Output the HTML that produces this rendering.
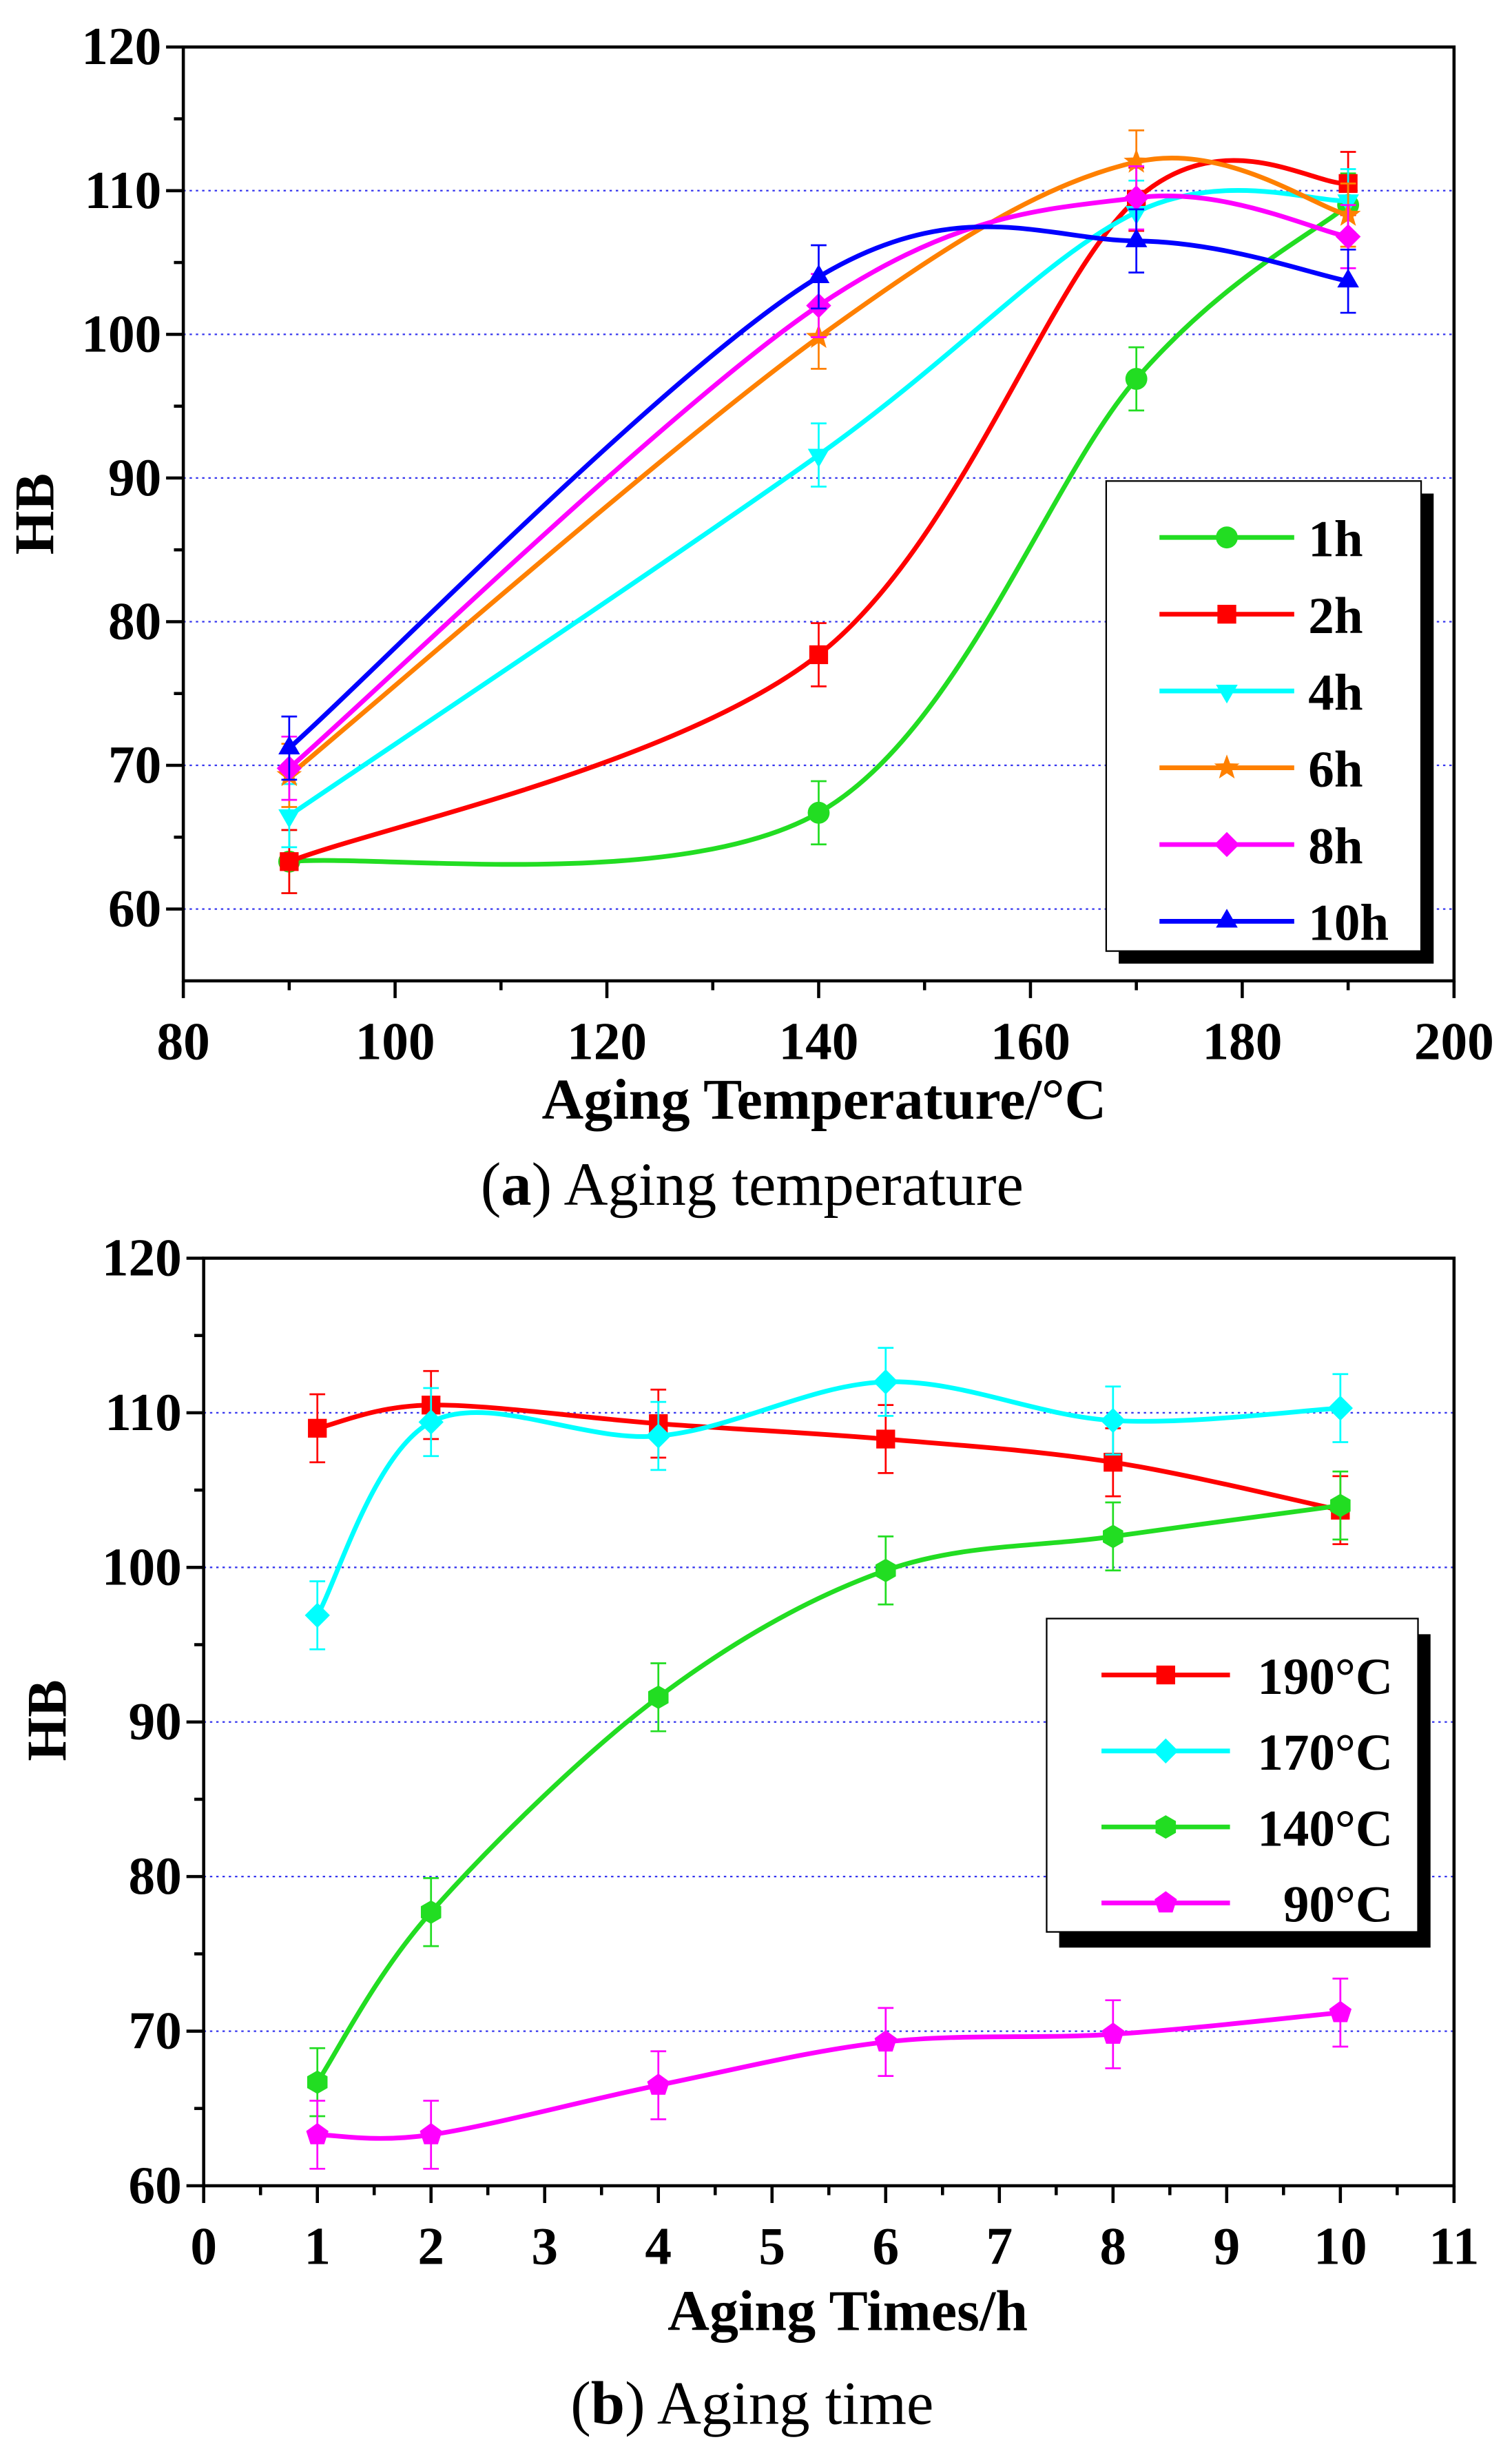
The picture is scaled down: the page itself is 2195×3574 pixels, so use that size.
<!DOCTYPE html>
<html><head><meta charset="utf-8"><style>
html,body{margin:0;padding:0;background:#fff;}
svg{display:block;}
text{font-family:"Liberation Serif",serif;}
</style></head><body>
<svg id="fig" xmlns="http://www.w3.org/2000/svg" width="2195" height="3574" viewBox="0 0 965 1571.3" preserveAspectRatio="none"></svg>
<script>
// ---- data chart (a)
const tempsA=[90,140,170,190];
const seriesNamesA=['1h','2h','4h','6h','8h','10h'];
const h1=[63.3,66.7,96.9,109.0];
const h2=[63.3,77.7,109.4,110.5];
const h4=[66.5,91.6,108.5,109.3];
const h6=[69.3,99.8,112.0,108.3];
const h8=[69.8,102.0,109.5,106.8];
const h10=[71.2,104.0,106.5,103.7];
const xTicksA=[80,100,120,140,160,180,200];
const yTicksA=[60,70,80,90,100,110,120];
// ---- data chart (b)
const timesB=[1,2,4,6,8,10];
const seriesNamesB=['190°C','170°C','140°C','90°C'];
const t190=[109.0,110.5,109.3,108.3,106.8,103.7];
const t170=[96.9,109.4,108.5,112.0,109.5,110.3];
const t140=[66.7,77.7,91.6,99.8,102.0,104.0];
const t90=[63.3,63.3,66.5,69.3,69.8,71.2];
const xTicksB=[0,1,2,3,4,5,6,7,8,9,10,11];
const yTicksB=[60,70,80,90,100,110,120];
const errA=2.2, errB=2.2;

const NS='http://www.w3.org/2000/svg';
const svg=document.getElementById('fig');
function mk(tag,attrs,parent){const e=document.createElementNS(NS,tag);for(const k in attrs)e.setAttribute(k,attrs[k]);(parent||svg).appendChild(e);return e;}
function txt(s,attrs,parent){const e=mk('text',attrs,parent);e.textContent=s;return e;}
function spline(pts){
  let d='M'+pts[0][0]+','+pts[0][1];
  for(let i=0;i<pts.length-1;i++){
    const p0=pts[i-1]||pts[i],p1=pts[i],p2=pts[i+1],p3=pts[i+2]||pts[i+1];
    const c1=[p1[0]+(p2[0]-p0[0])/6,p1[1]+(p2[1]-p0[1])/6];
    const c2=[p2[0]-(p3[0]-p1[0])/6,p2[1]-(p3[1]-p1[1])/6];
    d+=` C${c1[0]},${c1[1]} ${c2[0]},${c2[1]} ${p2[0]},${p2[1]}`;
  }
  return d;
}
function poly(n,r,cx,cy,rot){let p=[];for(let i=0;i<n;i++){const a=rot+i*2*Math.PI/n;p.push((cx+r*Math.cos(a)).toFixed(2)+','+(cy+r*Math.sin(a)).toFixed(2));}return p.join(' ');}
function marker(g,type,cx,cy,col){
  const r=7;
  if(type==='circle')return mk('circle',{cx,cy,r,fill:col},g);
  if(type==='square')return mk('rect',{x:cx-6,y:cy-6,width:12,height:12,fill:col},g);
  if(type==='tdown')return mk('polygon',{points:poly(3,8,cx,cy,Math.PI/2),fill:col},g);
  if(type==='tup')return mk('polygon',{points:poly(3,8,cx,cy,-Math.PI/2),fill:col},g);
  if(type==='diamond')return mk('polygon',{points:poly(4,8,cx,cy,0),fill:col},g);
  if(type==='hex')return mk('polygon',{points:poly(6,7.5,cx,cy,Math.PI/6),fill:col},g);
  if(type==='pent')return mk('polygon',{points:poly(5,7.5,cx,cy,-Math.PI/2),fill:col},g);
  if(type==='star'){let p=[];for(let i=0;i<10;i++){const a=-Math.PI/2+i*Math.PI/5;const rr=i%2?3.5:8.5;p.push((cx+rr*Math.cos(a))+','+(cy+rr*Math.sin(a)));}return mk('polygon',{points:p.join(' '),fill:col},g);}
}
function drawChart(cfg){
  const {L,R,T,B,xmin,xmax,ymin,ymax,xTicks,yTicks,grid,xMinor,yMinor,name}=cfg;
  const X=v=>L+(v-xmin)/(xmax-xmin)*(R-L);
  const Y=v=>B-(v-ymin)/(ymax-ymin)*(B-T);
  const g=mk('g',{});
  
  
  grid.forEach(v=>{const l=mk('line',{x1:L,x2:R,y1:Y(v),y2:Y(v),stroke:'#3333ee','stroke-width':1,'stroke-dasharray':'1.5,2.5'},g);});
  const fr=mk('rect',{x:L,y:T,width:R-L,height:B-T,fill:'none',stroke:'#000','stroke-width':2},g);
  
  xTicks.forEach(v=>{mk('line',{x1:X(v),x2:X(v),y1:B,y2:B+11,stroke:'#000','stroke-width':2},g);
    const t=txt(String(v),{x:X(v),y:B+50,'text-anchor':'middle','font-size':34,'font-weight':'bold'},g);
    });
  xMinor.forEach(v=>mk('line',{x1:X(v),x2:X(v),y1:B,y2:B+6,stroke:'#000','stroke-width':2},g));
  yTicks.forEach(v=>{mk('line',{x1:L-11,x2:L,y1:Y(v),y2:Y(v),stroke:'#000','stroke-width':2},g);
    const t=txt(String(v),{x:L-14,y:Y(v)+11,'text-anchor':'end','font-size':34,'font-weight':'bold'},g);
    });
  yMinor.forEach(v=>mk('line',{x1:L-6,x2:L,y1:Y(v),y2:Y(v),stroke:'#000','stroke-width':2},g));
  return {X,Y,g};
}
function drawSeries(ax,xs,ys,col,type,err,nm){
  const g=mk('g',{},ax.g);
  
  
  const pts=xs.map((x,i)=>[ax.X(x),ax.Y(ys[i])]);
  xs.forEach((x,i)=>{const cx=ax.X(x),y1=ax.Y(ys[i]+err),y2=ax.Y(ys[i]-err);
    mk('line',{x1:cx,x2:cx,y1,y2,stroke:col,'stroke-width':1.2},g);
    mk('line',{x1:cx-5,x2:cx+5,y1,y2:y1,stroke:col,'stroke-width':1.2},g);
    mk('line',{x1:cx-5,x2:cx+5,y1:y2,y2:y2,stroke:col,'stroke-width':1.2},g);});
  mk('path',{d:spline(pts),fill:'none',stroke:col,'stroke-width':3},g);
  pts.forEach(p=>{const m=marker(g,type,p[0],p[1],col);});
}
// chart a
const axA=drawChart({L:117,R:928,T:30,B:626,xmin:80,xmax:200,ymin:55,ymax:120,xTicks:xTicksA,yTicks:yTicksA,grid:[60,70,80,90,100,110],
  xMinor:[90,110,130,150,170,190],yMinor:[65,75,85,95,105,115],name:'chart-aging-temperature'});
const colsA=['#22dd22','#ff0000','#00ffff','#ff8000','#ff00ff','#0000ff'];
const typesA=['circle','square','tdown','star','diamond','tup'];
const dataA=[h1,h2,h4,h6,h8,h10];
dataA.forEach((d,i)=>drawSeries(axA,tempsA,d,colsA[i],typesA[i],errA,'series-'+seriesNamesA[i]));
let t;
t=txt('HB',{x:0,y:0,transform:'translate(34,328) rotate(-90)','text-anchor':'middle','font-size':36,'font-weight':'bold'});
t=txt('Aging Temperature/°C',{x:526,y:714,'text-anchor':'middle','font-size':37,'font-weight':'bold'});
t=txt('',{x:480,y:769,'text-anchor':'middle','font-size':39});t.innerHTML='(<tspan font-weight="bold">a</tspan>) Aging temperature';
// legend a
const lgA=mk('g',{});
mk('rect',{x:714,y:315,width:201,height:300,fill:'#000'},lgA);
mk('rect',{x:706,y:307,width:201,height:300,fill:'#fff',stroke:'#000','stroke-width':1},lgA);
seriesNamesA.forEach((n,i)=>{const y=343+i*49;const e=mk('g',{},lgA);
  mk('line',{x1:740,x2:826,y1:y,y2:y,stroke:colsA[i],'stroke-width':3},e);marker(e,typesA[i],783,y,colsA[i]);
  txt(n,{x:835,y:y+12,'font-size':33,'font-weight':'bold'},e);});
// chart b
const axB=drawChart({L:130,R:928,T:803,B:1395,xmin:0,xmax:11,ymin:60,ymax:120,xTicks:xTicksB,yTicks:yTicksB,grid:[70,80,90,100,110],
  xMinor:[0.5,1.5,2.5,3.5,4.5,5.5,6.5,7.5,8.5,9.5,10.5],yMinor:[65,75,85,95,105,115],name:'chart-aging-time'});
const colsB=['#ff0000','#00ffff','#22dd22','#ff00ff'];
const typesB=['square','diamond','hex','pent'];
const dataB=[t190,t170,t140,t90];
dataB.forEach((d,i)=>drawSeries(axB,timesB,d,colsB[i],typesB[i],errB,'series-'+seriesNamesB[i]));
t=txt('HB',{x:0,y:0,transform:'translate(42,1098) rotate(-90)','text-anchor':'middle','font-size':36,'font-weight':'bold'});
t=txt('Aging Times/h',{x:541,y:1487,'text-anchor':'middle','font-size':37,'font-weight':'bold'});
t=txt('',{x:480,y:1547,'text-anchor':'middle','font-size':39});t.innerHTML='(<tspan font-weight="bold">b</tspan>) Aging time';
const lgB=mk('g',{});
mk('rect',{x:676,y:1043,width:237,height:200,fill:'#000'},lgB);
mk('rect',{x:668,y:1033,width:237,height:200,fill:'#fff',stroke:'#000','stroke-width':1},lgB);
seriesNamesB.forEach((n,i)=>{const y=1069+i*48.5;const e=mk('g',{},lgB);
  mk('line',{x1:703,x2:785,y1:y,y2:y,stroke:colsB[i],'stroke-width':3},e);marker(e,typesB[i],744,y,colsB[i]);
  txt(n,{x:889,y:y+12,'text-anchor':'end','font-size':33,'font-weight':'bold'},e);});
</script>
</body></html>
